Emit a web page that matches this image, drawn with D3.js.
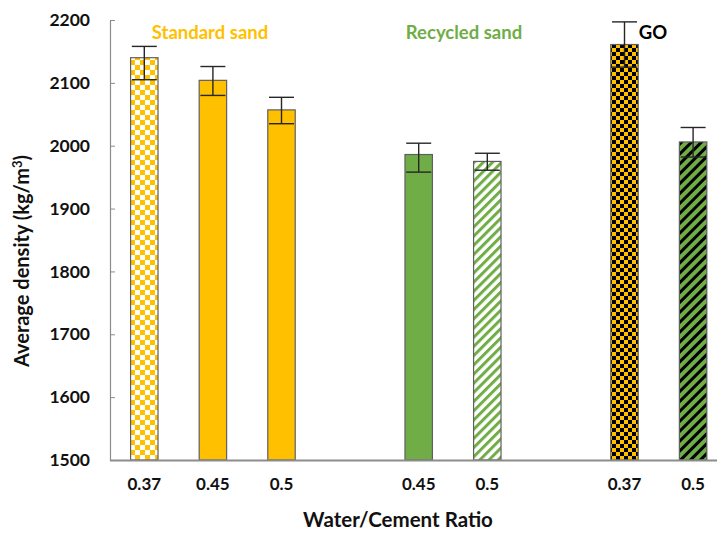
<!DOCTYPE html>
<html>
<head>
<meta charset="utf-8">
<script src="https://cdn.jsdelivr.net/npm/d3@7/dist/d3.min.js"></script>
<style>
  html, body { margin: 0; padding: 0; background: #fff; }
  svg { display: block; font-family: Lato, "Open Sans", sans-serif; font-weight: bold; }
</style>
</head>
<body>
<svg id="chart" width="717" height="533"></svg>
<script>
// Mix groups and their water/cement ratios
const groups = ["Standard sand", "Recycled sand", "GO"];
const groupColors = ["#FFC000", "#70AD47", "#000000"];
const ratios = [["0.37", "0.45", "0.5"], ["0.45", "0.5"], ["0.37", "0.5"]];

// Average density (kg/m3) per bar, with error extents above and below
const density = [[2140, 2104, 2057], [1986, 1975], [2161, 2006]];
const errUp   = [[18, 22, 20], [18, 13], [36, 23]];
const errDown = [[35, 24, 22], [28, 14], [36, 24]];

// Fill style of each bar
const fills = [["checkSS", "solidSS", "solidSS"], ["solidRS", "stripeRS"], ["checkGO", "stripeGO"]];

const yTicks = [1500, 1600, 1700, 1800, 1900, 2000, 2100, 2200];

// Flatten bars, leaving an empty slot between groups
const bars = [];
const slots = [];
groups.forEach((g, gi) => {
  if (gi > 0) slots.push("gap" + gi);
  ratios[gi].forEach((r, ri) => {
    const key = g + "|" + r;
    slots.push(key);
    bars.push({ key, group: g, ratio: r, value: density[gi][ri],
                up: errUp[gi][ri], down: errDown[gi][ri], fill: fills[gi][ri] });
  });
});

const svg = d3.select("#chart");
const plotLeft = 110, plotBottom = 460, plotTop = 20;

const x = d3.scaleBand().domain(slots).range([plotLeft, plotLeft + 68.6 * slots.length]).paddingInner(0.6).paddingOuter(0.3);
const y = d3.scaleLinear().domain([1500, 2200]).range([plotBottom, plotTop]);

// Fill patterns
const defs = svg.append("defs");
function checker(id, s, bg, fg) {
  const p = defs.append("pattern").attr("id", id).attr("patternUnits", "userSpaceOnUse")
    .attr("width", 2 * s).attr("height", 2 * s);
  p.append("rect").attr("width", 2 * s).attr("height", 2 * s).attr("fill", bg);
  p.append("rect").attr("width", s).attr("height", s).attr("fill", fg);
  p.append("rect").attr("x", s).attr("y", s).attr("width", s).attr("height", s).attr("fill", fg);
}
function stripes(id, gap, w, bg, fg) {
  const p = defs.append("pattern").attr("id", id).attr("patternUnits", "userSpaceOnUse")
    .attr("width", gap).attr("height", gap).attr("patternTransform", "rotate(45)");
  p.append("rect").attr("width", gap).attr("height", gap).attr("fill", bg);
  p.append("rect").attr("width", w).attr("height", gap).attr("fill", fg);
}
checker("checkSS", 5, "#ffffff", "#FFC000");
checker("checkGO", 4, "#FFC000", "#000000");
stripes("stripeRS", 6.5, 3, "#ffffff", "#70AD47");
stripes("stripeGO", 7, 3, "#70AD47", "#000000");
const fillOf = { solidSS: "#FFC000", solidRS: "#70AD47" };

// Bars
svg.append("g").selectAll("rect").data(bars).join("rect")
  .attr("x", d => x(d.key))
  .attr("y", d => y(d.value))
  .attr("width", x.bandwidth())
  .attr("height", d => y(1500) - y(d.value))
  .attr("fill", d => fillOf[d.fill] || `url(#${d.fill})`)
  .attr("stroke", "#5f5f5f")
  .attr("stroke-width", 1.2);

// Error bars
const cap = 12.5;
const eg = svg.append("g").attr("stroke", "#262626").attr("stroke-width", 1.4).attr("fill", "none");
bars.forEach(d => {
  const cx = x(d.key) + x.bandwidth() / 2;
  const y1 = y(d.value + d.up), y2 = y(d.value - d.down);
  eg.append("line").attr("x1", cx).attr("x2", cx).attr("y1", y1).attr("y2", y2);
  eg.append("line").attr("x1", cx - cap).attr("x2", cx + cap).attr("y1", y1).attr("y2", y1);
  eg.append("line").attr("x1", cx - cap).attr("x2", cx + cap).attr("y1", y2).attr("y2", y2);
});

// Y axis
const yAxis = svg.append("g").attr("transform", `translate(${plotLeft},0)`)
  .call(d3.axisLeft(y).tickValues(yTicks).tickSize(-5).tickPadding(20).tickFormat(d3.format("d")));
yAxis.select(".domain").attr("stroke", "#8c8c8c").attr("stroke-width", 1.2);
yAxis.selectAll(".tick line").attr("stroke", "#8c8c8c");
yAxis.selectAll(".tick text").attr("font-size", 17.5).attr("font-family", "Lato").attr("font-weight", "bold").attr("fill", "#111");

// X axis
const xAxis = svg.append("g").attr("transform", `translate(0,${plotBottom})`)
  .call(d3.axisBottom(x).tickSize(0).tickPadding(18)
    .tickFormat(k => k.startsWith("gap") ? "" : k.split("|")[1]));
xAxis.select(".domain").attr("stroke", "#8c8c8c").attr("stroke-width", 2).attr("d", `M${plotLeft},0.5H717`);
xAxis.selectAll(".tick text").attr("font-size", 17).attr("font-family", "Lato").attr("font-weight", "bold").attr("fill", "#111");

// Group labels
const labelAt = [210, 464, 653];
groups.forEach((g, gi) => {
  svg.append("text").attr("x", labelAt[gi]).attr("y", 39).attr("text-anchor", "middle")
    .attr("font-size", 18.5).attr("fill", groupColors[gi]).text(g);
});

// Axis titles
svg.append("text").attr("x", 398).attr("y", 527).attr("text-anchor", "middle")
  .attr("font-size", 20.5).attr("fill", "#111").text("Water/Cement Ratio");
const yt = svg.append("text").attr("transform", "translate(29,261) rotate(-90)")
  .attr("text-anchor", "middle").attr("font-size", 20).attr("fill", "#111");
yt.append("tspan").text("Average density (kg/m");
yt.append("tspan").attr("dy", -7).attr("font-size", 13).text("3");
yt.append("tspan").attr("dy", 7).text(")");
</script>
</body>
</html>
